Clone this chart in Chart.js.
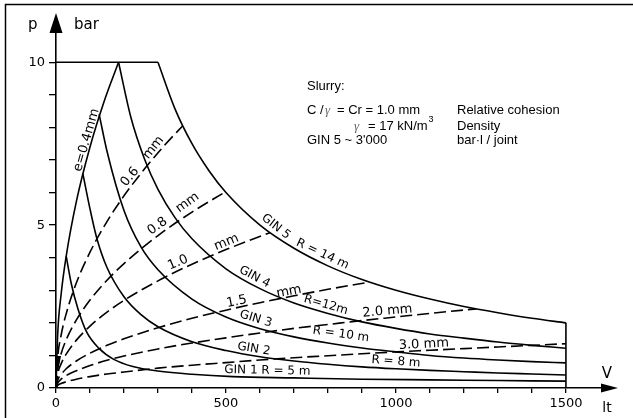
<!DOCTYPE html>
<html>
<head>
<meta charset="utf-8">
<script src="https://cdn.jsdelivr.net/npm/chart.js@4.4.1/dist/chart.umd.min.js"></script>
<style>
  html, body { margin: 0; padding: 0; background: #fff; }
  #wrap { width: 633px; height: 418px; }
</style>
</head>
<body>
<div id="wrap"><canvas id="chart" width="633" height="418"></canvas></div>
<script>
// Grout injection limits (GIN method) - p [bar] against V [l]
// each curve is a list of [V, p] pairs

// aperture lines e (mm)
const e04 = [[0,0],[5,1.65],[15,2.87],[30,4.05],[60,5.73],[100,7.4],[140,8.75],[184,10]];
const e06 = [[0,0],[5,0.93],[15,1.62],[30,2.28],[60,3.23],[100,4.17],[150,5.11],[200,5.9],[260,6.72],[320,7.46],[373,8.05]];
const e08 = [[0,0],[5,0.6],[15,1.05],[30,1.48],[60,2.09],[100,2.7],[150,3.31],[200,3.82],[300,4.68],[400,5.4],[498,6.02]];
const e10 = [[0,0],[5,0.42],[15,0.74],[30,1.04],[60,1.47],[100,1.9],[150,2.33],[200,2.69],[300,3.29],[400,3.8],[500,4.25],[629,4.77]];
const e15 = [[0,0],[5,0.24],[15,0.41],[30,0.59],[60,0.83],[100,1.07],[150,1.31],[200,1.51],[300,1.85],[400,2.14],[500,2.39],[600,2.62],[700,2.83],[800,3.03],[922,3.25]];
const e20 = [[0,0],[5,0.15],[15,0.27],[30,0.38],[60,0.53],[100,0.69],[150,0.85],[200,0.98],[300,1.2],[400,1.38],[500,1.54],[600,1.69],[700,1.83],[800,1.95],[900,2.07],[1000,2.18],[1100,2.29],[1236,2.43]];
const e30 = [[0,0],[5,0.08],[15,0.14],[30,0.19],[60,0.27],[100,0.35],[150,0.43],[200,0.49],[300,0.61],[400,0.7],[500,0.78],[600,0.86],[700,0.93],[800,0.99],[900,1.05],[1000,1.11],[1100,1.16],[1200,1.21],[1300,1.26],[1400,1.31],[1500,1.36]];

// GIN 5 envelope: pressure cap, GIN curve, volume cap
const capTop = [[0,10],[300,10]];
const gin5 = [[300,10],[350,8.57],[400,7.5],[450,6.67],[500,6],[600,5],[700,4.29],[800,3.75],[900,3.33],[1000,3],[1100,2.73],[1200,2.5],[1300,2.31],[1400,2.14],[1500,2]];
const capRight = [[1500,2],[1500,0]];

// radius curves (GIN 4 .. GIN 1)
const r12 = [[184,10],[220,8.32],[260,7.04],[300,6.1],[350,5.23],[400,4.58],[500,3.66],[600,3.05],[700,2.61],[800,2.29],[900,2.03],[1000,1.83],[1100,1.66],[1200,1.53],[1300,1.41],[1400,1.31],[1500,1.22]];
const r10 = [[127,8.4],[150,7.27],[200,5.45],[250,4.33],[300,3.63],[400,2.73],[500,2.18],[600,1.82],[700,1.57],[800,1.38],[900,1.23],[1000,1.11],[1100,1.0],[1200,0.92],[1300,0.86],[1400,0.81],[1500,0.77]];
const r8 = [[79,6.58],[100,5.5],[120,4.6],[150,3.7],[200,2.8],[250,2.25],[300,1.88],[400,1.42],[500,1.15],[600,0.96],[700,0.83],[800,0.73],[900,0.65],[1000,0.59],[1100,0.54],[1200,0.5],[1300,0.46],[1400,0.43],[1500,0.4]];
const r5 = [[30,4.05],[45,3.2],[64,2.45],[90,1.72],[128,1.2],[170,0.88],[226,0.66],[300,0.52],[400,0.42],[520,0.35],[700,0.31],[900,0.27],[1100,0.25],[1300,0.23],[1500,0.21]];

// tick labels
const xLabels = [0, 500, 1000, 1500];
const yLabels = [0, 5, 10];

// curve labels: text, V, p, angle, size
const curveLabels = [
  ['e=0.4mm', 89.7, 7.61, -74, 13],
  ['0.6', 217.6, 6.48, -51, 13],
  ['mm', 286.8, 7.38, -51, 13],
  ['0.8', 298.5, 4.97, -36, 13],
  ['mm', 386.8, 5.69, -36, 13],
  ['1.0', 358.8, 3.85, -23, 13],
  ['mm', 501.5, 4.47, -22, 13],
  ['1.5', 531.5, 2.65, -11, 13],
  ['mm', 685.3, 2.96, -11, 13],
  ['2.0 mm', 975, 2.36, -5, 13],
  ['3.0 mm', 1082, 1.34, -3, 13],
  ['GIN 5', 647, 4.95, 38, 12],
  ['R = 14 m', 784, 4.11, 25, 12],
  ['GIN 4', 584, 3.41, 28, 12],
  ['R=12m', 794, 2.55, 16, 12],
  ['GIN 3', 588, 2.12, 17, 12],
  ['R = 10 m', 838, 1.65, 8, 12],
  ['GIN 2', 582, 1.2, 9, 12],
  ['R = 8 m', 1000, 0.81, 4, 12],
  ['GIN 1 R = 5 m', 622, 0.53, 1, 12]
];

function line(pts, dashed, smooth) {
  return {
    data: pts.map(p => ({ x: p[0], y: p[1] })),
    showLine: true,
    borderColor: '#000',
    borderWidth: 1.6,
    borderDash: dashed ? [12, 5] : [],
    pointRadius: 0,
    fill: false,
    cubicInterpolationMode: smooth ? 'monotone' : 'default',
    tension: 0
  };
}

const decor = {
  id: 'decor',
  afterDraw(chart) {
    const { ctx, scales: { x, y } } = chart;
    const x0 = x.getPixelForValue(0);
    const y0 = y.getPixelForValue(0);
    ctx.save();
    ctx.strokeStyle = '#000';
    ctx.fillStyle = '#000';

    // page frame
    ctx.lineWidth = 1.5;
    ctx.beginPath();
    ctx.moveTo(5.5, 418);
    ctx.lineTo(5.5, 4.5);
    ctx.lineTo(633, 4.5);
    ctx.stroke();

    // axis arrows
    ctx.beginPath();
    ctx.moveTo(x0, 13); ctx.lineTo(x0 - 6.5, 33); ctx.lineTo(x0 + 6.5, 33);
    ctx.closePath(); ctx.fill();
    ctx.beginPath();
    ctx.moveTo(618, y0); ctx.lineTo(601, y0 - 4.5); ctx.lineTo(601, y0 + 4.5);
    ctx.closePath(); ctx.fill();

    // small mark on the p axis
    ctx.beginPath();
    ctx.moveTo(x0, 356); ctx.lineTo(x0 + 5, 356); ctx.lineTo(x0 + 2, 371);
    ctx.closePath(); ctx.fill();

    // axis titles
    ctx.textAlign = 'left';
    ctx.textBaseline = 'alphabetic';
    ctx.font = '15px "DejaVu Sans"';
    ctx.fillText('p', 28, 29);
    ctx.fillText('bar', 74, 29);
    ctx.textAlign = 'center';
    ctx.fillText('V', 607, 378);
    ctx.font = '14px "DejaVu Sans"';
    ctx.fillText('lt', 607, 412);

    // curve labels
    ctx.textBaseline = 'middle';
    curveLabels.forEach(([t, v, p, a, s]) => {
      ctx.save();
      ctx.translate(x.getPixelForValue(v), y.getPixelForValue(p));
      ctx.rotate(a * Math.PI / 180);
      ctx.font = s + 'px "DejaVu Sans"';
      ctx.fillText(t, 0, 0);
      ctx.restore();
    });

    // slurry parameters
    ctx.textAlign = 'left';
    ctx.textBaseline = 'alphabetic';
    ctx.font = '13px "Liberation Sans"';
    ctx.fillText('Slurry:', 307, 90);
    ctx.fillText('C /', 307, 114);
    ctx.fillText('= Cr = 1.0 mm', 337, 114);
    const unit = '= 17 kN/m';
    ctx.fillText(unit, 368, 130);
    const supX = 368 + ctx.measureText(unit).width + 1;
    ctx.fillText("GIN 5 ~ 3'000", 307, 144);
    ctx.fillText('Relative cohesion', 457, 114);
    ctx.fillText('Density', 457, 130);
    ctx.fillText('bar\u00b7l / joint', 457, 144);
    ctx.font = '9px "Liberation Sans"';
    ctx.fillText('3', supX, 122);
    ctx.fillStyle = '#666';
    ctx.font = 'italic 13px "Liberation Serif"';
    ctx.fillText('\u03b3', 325, 114);
    ctx.fillText('\u03b3', 354, 130);
    ctx.restore();
  }
};

new Chart(document.getElementById('chart'), {
  type: 'scatter',
  data: {
    datasets: [
      line(e04, false, true),
      line(e06, true, true),
      line(e08, true, true),
      line(e10, true, true),
      line(e15, true, true),
      line(e20, true, true),
      line(e30, true, true),
      line(capTop, false, false),
      line(gin5, false, true),
      line(capRight, false, false),
      line(r12, false, true),
      line(r10, false, true),
      line(r8, false, true),
      line(r5, false, true)
    ]
  },
  options: {
    responsive: false,
    animation: false,
    events: [],
    layout: { padding: { top: 32, right: 29, left: 0, bottom: 0 } },
    plugins: { legend: { display: false }, tooltip: { enabled: false } },
    scales: {
      x: {
        type: 'linear',
        min: 0,
        max: 1612,
        afterBuildTicks: s => { s.ticks = s.ticks.filter(t => t.value <= 1500); },
        afterFit: s => { s.height = 30; },
        border: { color: '#000', width: 1.6 },
        grid: { drawOnChartArea: false, color: '#000', tickLength: 5, lineWidth: 1.3 },
        ticks: {
          stepSize: 100,
          autoSkip: false,
          maxRotation: 0,
          color: '#000',
          padding: 3,
          font: { family: 'DejaVu Sans', size: 13 },
          callback: v => (xLabels.includes(v) ? String(v) : '')
        }
      },
      y: {
        type: 'linear',
        min: 0,
        max: 10.93,
        afterBuildTicks: s => { s.ticks = s.ticks.filter(t => t.value <= 10); },
        afterFit: s => { s.width = 56; },
        border: { color: '#000', width: 1.6 },
        grid: { drawOnChartArea: false, color: '#000', tickLength: 7, lineWidth: 1.3 },
        ticks: {
          stepSize: 1,
          autoSkip: false,
          color: '#000',
          padding: 4,
          font: { family: 'DejaVu Sans', size: 13 },
          callback: v => (yLabels.includes(v) ? String(v) : '')
        }
      }
    }
  },
  plugins: [decor]
});
</script>
</body>
</html>
